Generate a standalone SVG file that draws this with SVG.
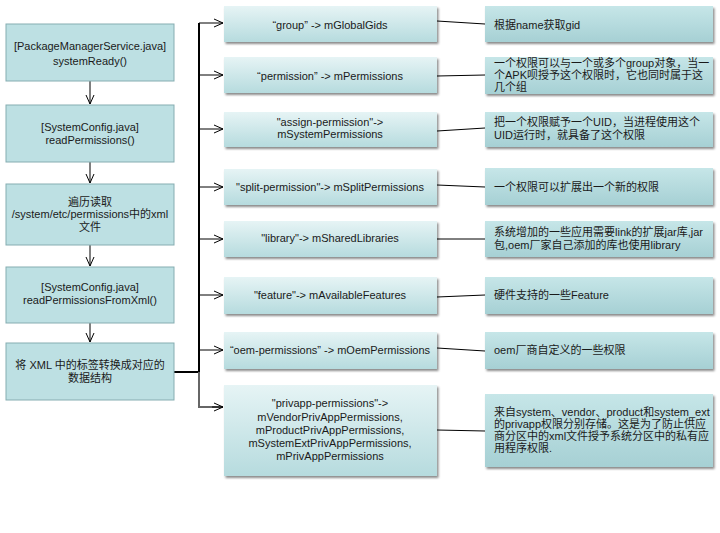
<svg xmlns="http://www.w3.org/2000/svg" width="720" height="533" viewBox="0 0 720 533">
<defs>
<linearGradient id="gm" x1="0" y1="0" x2="0" y2="1"><stop offset="0" stop-color="#e6f4f5"/><stop offset="1" stop-color="#b6dbde"/></linearGradient>
<linearGradient id="gr" x1="0" y1="0" x2="0" y2="1"><stop offset="0" stop-color="#c6e6e8"/><stop offset="1" stop-color="#a6d0d4"/></linearGradient>
<filter id="sh" x="-10%" y="-10%" width="120%" height="140%"><feDropShadow dx="1.5" dy="2" stdDeviation="1.2" flood-color="#000" flood-opacity="0.45"/></filter>
<marker id="ar" markerWidth="12" markerHeight="12" refX="10" refY="6" orient="auto" markerUnits="userSpaceOnUse"><polyline points="1,2 10,6 1,10" fill="none" stroke="#000" stroke-width="1"/></marker>
</defs>
<style>
text{font-family:"Liberation Sans","Noto Sans CJK SC",sans-serif;font-size:11px;fill:#1a1a1a}
.c{text-anchor:middle}
.l{fill:#bde0e3;stroke:#86adb1;stroke-width:1}
.m{fill:url(#gm);filter:url(#sh)}
.r{fill:url(#gr);filter:url(#sh)}
.cn{stroke:#000;stroke-width:1;fill:none}
</style>
<rect width="720" height="533" fill="#fff"/>
<g id="connectors">
<line class="cn" x1="90" y1="81" x2="90" y2="104" marker-end="url(#ar)"/>
<line class="cn" x1="90" y1="162" x2="90" y2="183" marker-end="url(#ar)"/>
<line class="cn" x1="90" y1="245" x2="90" y2="266" marker-end="url(#ar)"/>
<line class="cn" x1="90" y1="323" x2="90" y2="342" marker-end="url(#ar)"/>
<polyline points="174,372 199,372 199,23" fill="none" stroke="#000" stroke-width="2"/>
<polyline points="199,372 199,407 223,407" fill="none" stroke="#666" stroke-width="2"/>
<line class="cn" x1="199" y1="23" x2="223" y2="23" marker-end="url(#ar)"/>
<line class="cn" x1="199" y1="75" x2="223" y2="75" marker-end="url(#ar)"/>
<line class="cn" x1="199" y1="129" x2="223" y2="129" marker-end="url(#ar)"/>
<line class="cn" x1="199" y1="187" x2="223" y2="187" marker-end="url(#ar)"/>
<line class="cn" x1="199" y1="239" x2="223" y2="239" marker-end="url(#ar)"/>
<line class="cn" x1="199" y1="295" x2="223" y2="295" marker-end="url(#ar)"/>
<line class="cn" x1="199" y1="350" x2="223" y2="350" marker-end="url(#ar)"/>
<line class="cn" x1="212" y1="407" x2="223" y2="407" marker-end="url(#ar)"/>
<line class="cn" x1="437" y1="21" x2="485" y2="24"/>
<line class="cn" x1="437" y1="76" x2="485" y2="75"/>
<line class="cn" x1="437" y1="131" x2="485" y2="128"/>
<line class="cn" x1="437" y1="185" x2="485" y2="187"/>
<line class="cn" x1="437" y1="239" x2="485" y2="239"/>
<line class="cn" x1="437" y1="297" x2="485" y2="295"/>
<line class="cn" x1="437" y1="348" x2="485" y2="351"/>
<line class="cn" x1="437" y1="430" x2="485" y2="431"/>
</g>
<g id="n1"><rect class="l" x="6" y="24" width="168" height="57"/><text class="c" x="90" y="50">[PackageManagerService.java]</text><text class="c" x="90" y="65">systemReady()</text></g>
<g id="n2"><rect class="l" x="6" y="105" width="168" height="57"/><text class="c" x="90" y="131">[SystemConfig.java]</text><text class="c" x="90" y="144">readPermissions()</text></g>
<g id="n3"><rect class="l" x="6" y="184" width="168" height="61"/><text class="c" x="90" y="206">遍历读取</text><text class="c" x="90" y="218">/system/etc/permissions中的xml</text><text class="c" x="90" y="231">文件</text></g>
<g id="n4"><rect class="l" x="6" y="267" width="168" height="56"/><text class="c" x="90" y="291">[SystemConfig.java]</text><text class="c" x="90" y="304">readPermissionsFromXml()</text></g>
<g id="n5"><rect class="l" x="6" y="343" width="168" height="57"/><text class="c" x="90" y="369">将 XML 中的标签转换成对应的</text><text class="c" x="90" y="382">数据结构</text></g>
<g id="m1"><rect class="m" x="224" y="6" width="213" height="36"/><text class="c" x="330" y="29">“group” -&gt; mGlobalGids</text></g>
<g id="m2"><rect class="m" x="224" y="57" width="213" height="36"/><text class="c" x="330" y="80">“permission” -&gt; mPermissions</text></g>
<g id="m3"><rect class="m" x="224" y="112" width="213" height="35"/><text class="c" x="330" y="126">"assign-permission"-&gt;</text><text class="c" x="330" y="138">mSystemPermissions</text></g>
<g id="m4"><rect class="m" x="224" y="169" width="213" height="36"/><text class="c" x="330" y="191">"split-permission"-&gt; mSplitPermissions</text></g>
<g id="m5"><rect class="m" x="224" y="221" width="213" height="36"/><text class="c" x="330" y="242">"library"-&gt; mSharedLibraries</text></g>
<g id="m6"><rect class="m" x="224" y="277" width="213" height="37"/><text class="c" x="330" y="299">"feature"-&gt; mAvailableFeatures</text></g>
<g id="m7"><rect class="m" x="224" y="332" width="213" height="37"/><text class="c" x="330" y="354">“oem-permissions” -&gt; mOemPermissions</text></g>
<g id="m8"><rect class="m" x="224" y="385" width="213" height="91"/><text class="c" x="330" y="407">"privapp-permissions"-&gt;</text><text class="c" x="330" y="421">mVendorPrivAppPermissions,</text><text class="c" x="330" y="434">mProductPrivAppPermissions,</text><text class="c" x="330" y="447">mSystemExtPrivAppPermissions,</text><text class="c" x="330" y="460">mPrivAppPermissions</text></g>
<g id="r1"><rect class="r" x="485" y="6" width="228" height="36"/><text x="494" y="29">根据name获取gid</text></g>
<g id="r2"><rect class="r" x="485" y="57" width="228" height="37"/><text x="494" y="67">一个权限可以与一个或多个group对象，当一</text><text x="494" y="79">个APK呗授予这个权限时，它也同时属于这</text><text x="494" y="91">几个组</text></g>
<g id="r3"><rect class="r" x="485" y="112" width="228" height="35"/><text x="494" y="126">把一个权限赋予一个UID，当进程使用这个</text><text x="494" y="139">UID运行时，就具备了这个权限</text></g>
<g id="r4"><rect class="r" x="485" y="168" width="228" height="37"/><text x="494" y="191">一个权限可以扩展出一个新的权限</text></g>
<g id="r5"><rect class="r" x="485" y="221" width="228" height="36"/><text x="494" y="236">系统增加的一些应用需要link的扩展jar库,jar</text><text x="494" y="249">包,oem厂家自己添加的库也使用library</text></g>
<g id="r6"><rect class="r" x="485" y="277" width="228" height="37"/><text x="494" y="299">硬件支持的一些Feature</text></g>
<g id="r7"><rect class="r" x="485" y="332" width="228" height="37"/><text x="494" y="354">oem厂商自定义的一些权限</text></g>
<g id="r8"><rect class="r" x="485" y="394" width="228" height="73"/><text x="494" y="416">来自system、vendor、product和system_ext</text><text x="494" y="428">的privapp权限分别存储。这是为了防止供应</text><text x="494" y="440">商分区中的xml文件授予系统分区中的私有应</text><text x="494" y="452">用程序权限.</text></g>
</svg>
